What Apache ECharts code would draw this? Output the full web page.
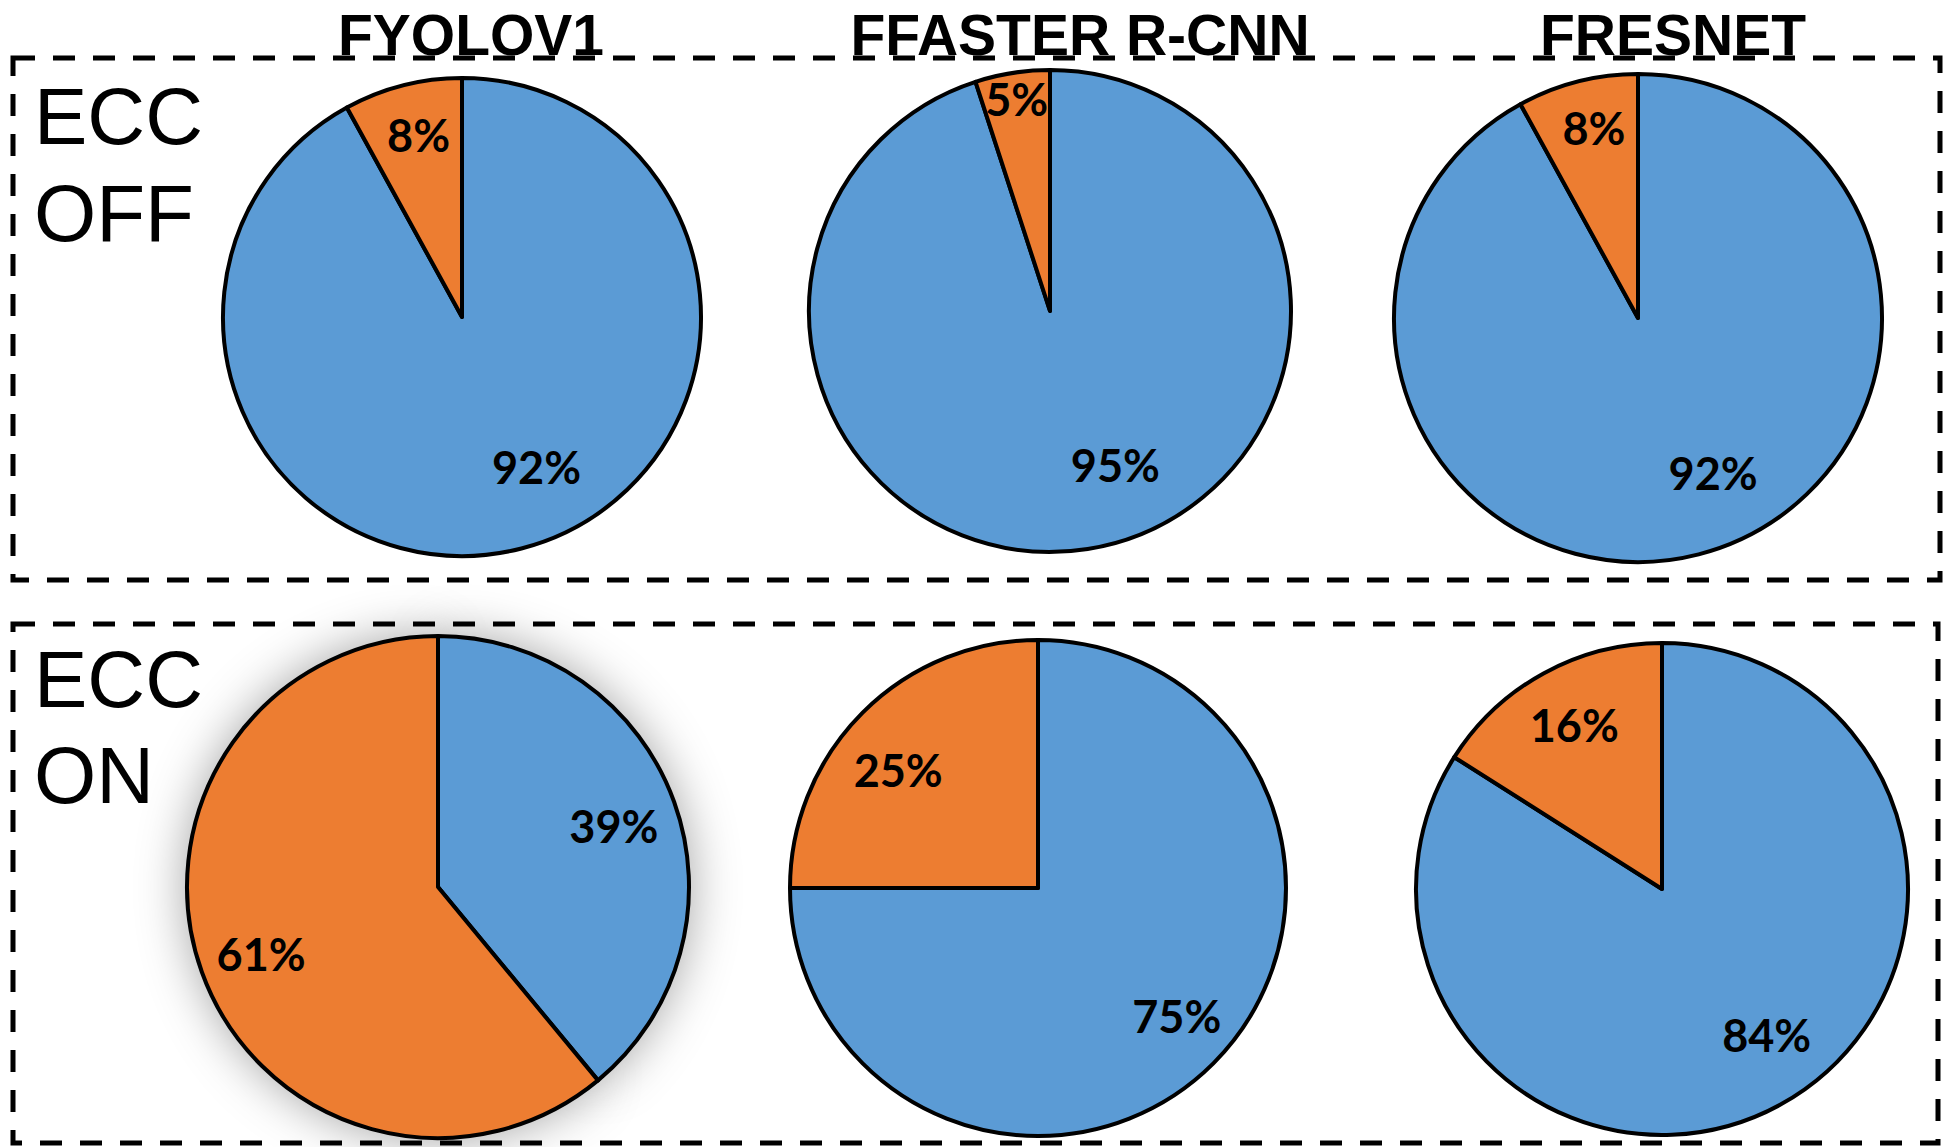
<!DOCTYPE html>
<html>
<head>
<meta charset="utf-8">
<script src="https://cdn.jsdelivr.net/npm/echarts@6/dist/echarts.min.js"></script>
<style>
  html, body { margin: 0; padding: 0; background: #ffffff; }
  #chart { width: 1944px; height: 1147px; }
</style>
</head>
<body>
<div id="chart"></div>
<script>
// Column headings (one per network) and row headings
const models = ['FYOLOV1', 'FFASTER R-CNN', 'FRESNET'];
const rowLabels = [['ECC', 'OFF'], ['ECC', 'ON']];

// Share of each run in percent: blue slice first, orange slice second
const blueEccOff = [92, 95, 92];
const orangeEccOff = [8, 5, 8];
const blueEccOn = [39, 75, 84];
const orangeEccOn = [61, 25, 16];

const BLUE = '#5B9BD5';
const ORANGE = '#ED7D31';

// Pie placement, [row][column]
const pieCenters = [
  [[462, 317], [1050, 311], [1638, 318]],
  [[438, 887], [1038, 888], [1662, 889]]
];
const pieRadii = [[239, 241, 244], [251, 248, 246]];
// Label nudges away from each slice's inner mid-point, [row][column][slice]
const labelNudge = [
  [[[44, 31], [-13, -63]], [[46, 32], [-14, -90]], [[44, 34], [-13, -69]]],
  [[[55, -17], [-56, 23]], [[49, 38], [-50, -28]], [[44, 36], [-27, -54]]]
];
// Only the first ECC ON pie carries a soft drop shadow
const shadowed = [[false, false, false], [true, false, false]];

const rows = [
  { blue: blueEccOff, orange: orangeEccOff },
  { blue: blueEccOn, orange: orangeEccOn }
];

const series = [];
rows.forEach(function (row, r) {
  models.forEach(function (model, c) {
    const data = [
      { value: row.blue[c], itemStyle: { color: BLUE } },
      { value: row.orange[c], itemStyle: { color: ORANGE } }
    ];
    if (shadowed[r][c]) {
      // backing disc that casts the shadow beneath the slices
      series.push({
        type: 'pie',
        silent: true,
        z: 1,
        center: pieCenters[r][c],
        radius: pieRadii[r][c],
        startAngle: 90,
        clockwise: true,
        label: { show: false },
        labelLine: { show: false },
        itemStyle: {
          color: '#ffffff',
          shadowBlur: 50,
          shadowColor: 'rgba(0,0,0,0.38)'
        },
        data: [row.blue[c], row.orange[c]]
      });
    }
    series.push({
      type: 'pie',
      name: model,
      z: 2,
      center: pieCenters[r][c],
      radius: pieRadii[r][c],
      startAngle: 90,
      clockwise: true,
      avoidLabelOverlap: false,
      emphasis: { disabled: true },
      itemStyle: { borderColor: '#000000', borderWidth: 4 },
      label: {
        show: true,
        position: 'inside',
        formatter: '{c}%',
        color: '#000000',
        fontFamily: 'Lato',
        fontWeight: 'bold',
        fontSize: 45
      },
      labelLine: { show: false },
      labelLayout: function (params) {
        const n = labelNudge[r][c][params.dataIndex];
        return { dx: n[0], dy: n[1] };
      },
      data: data
    });
  });
});

const dashStyle = { fill: 'none', stroke: '#000000', lineWidth: 5, lineDash: [22, 18] };
const graphic = [
  { type: 'rect', silent: true, z: 0, shape: { x: 13, y: 58, width: 1927, height: 522 }, style: dashStyle },
  { type: 'rect', silent: true, z: 0, shape: { x: 13, y: 624, width: 1925, height: 519 }, style: dashStyle }
];

const titleX = [471, 1080, 1673];
models.forEach(function (m, i) {
  graphic.push({
    type: 'text', silent: true, z: 100,
    style: {
      text: m, x: titleX[i], y: 35, align: 'center', verticalAlign: 'middle',
      font: 'bold 57px "Liberation Sans", Arial, sans-serif', fill: '#000000'
    }
  });
});

const rowLineY = [[116, 213], [679, 775]];
rowLabels.forEach(function (lines, r) {
  lines.forEach(function (t, k) {
    graphic.push({
      type: 'text', silent: true, z: 100,
      style: {
        text: t, x: 34, y: rowLineY[r][k], align: 'left', verticalAlign: 'middle',
        font: '80px "Liberation Sans", Arial, sans-serif', fill: '#000000'
      }
    });
  });
});

const chart = echarts.init(document.getElementById('chart'), null, { renderer: 'svg' });
chart.setOption({
  animation: false,
  backgroundColor: '#ffffff',
  series: series,
  graphic: graphic
});
</script>
</body>
</html>
